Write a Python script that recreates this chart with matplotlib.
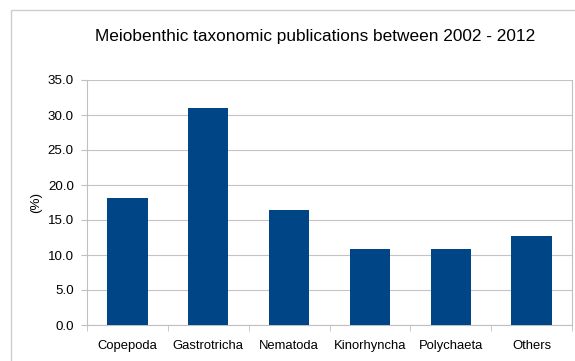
import matplotlib
matplotlib.use("Agg")
import matplotlib.pyplot as plt
from matplotlib.patches import Rectangle
import numpy as np

categories = ["Copepoda", "Gastrotricha", "Nematoda", "Kinorhyncha", "Polychaeta", "Others"]
values = [18.1, 31.0, 16.4, 10.9, 10.9, 12.7]
yticks = [0, 5, 10, 15, 20, 25, 30, 35]
title = "Meiobenthic taxonomic publications between 2002 - 2012"

plt.rcParams['font.family'] = ['Liberation Sans', 'DejaVu Sans']

W, H = 575, 361
fig = plt.figure(figsize=(W / 100, H / 100), dpi=100)
fig.patch.set_facecolor("white")

# outer chart border
fig.patches.append(Rectangle((11 / W, -0.1), 1.2, (H - 10) / H + 0.1,
                             transform=fig.transFigure, fill=False,
                             edgecolor="#cccccc", linewidth=1.0))

ax = fig.add_axes([87 / W, (H - 325) / H, (572 - 87) / W, (325 - 80) / H])
x = np.arange(len(categories))
ax.bar(x, values, width=0.5, color="#004586", zorder=3)

ax.set_xlim(-0.5, len(categories) - 0.5)
ax.set_ylim(0, 35)
ax.set_yticks(yticks)
ax.set_yticklabels([f"{v:.1f}" for v in yticks], fontsize=9.6)
ax.set_xticks(x)
ax.set_xticklabels(categories, fontsize=9.4)
ax.set_xticks(np.arange(-0.5, len(categories), 1.0), minor=True)
ax.tick_params(axis='x', which='major', length=0, pad=11)
ax.tick_params(axis='x', which='minor', length=4, direction='out', color="#c0c0c0")
ax.tick_params(axis='y', length=4, direction='out', color="#c0c0c0", pad=5.5)

ax.yaxis.grid(True, color="#c4c4c4", linewidth=0.8, zorder=0)
ax.set_axisbelow(True)
for side in ["left", "bottom", "right"]:
    ax.spines[side].set_color("#c0c0c0")
    ax.spines[side].set_linewidth(0.8)
ax.spines["top"].set_visible(False)

ax.set_ylabel("(%)", fontsize=9.6, labelpad=4)

fig.text(315 / W, 1 - 37 / H, title, ha="center", va="center", fontsize=12.4)

fig.savefig("out.png", dpi=100)
